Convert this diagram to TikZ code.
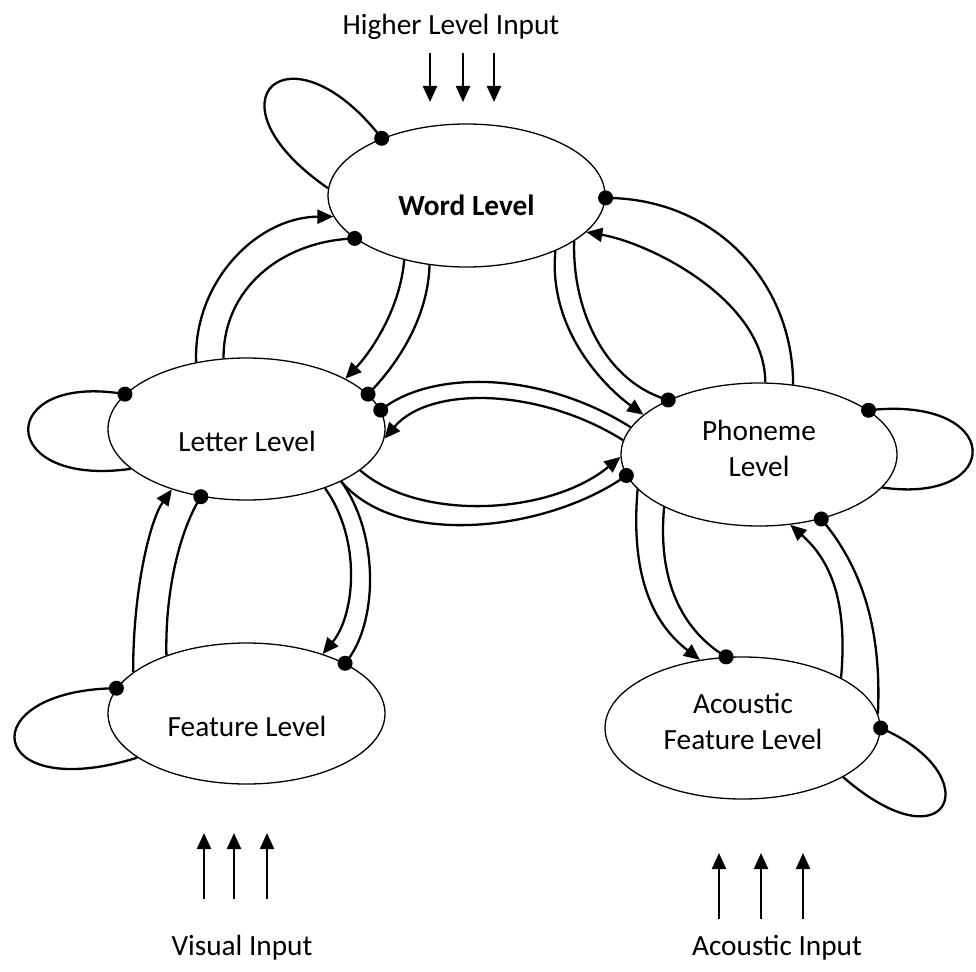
\documentclass[tikz,border=0pt]{standalone}
\usepackage{fontspec}
\setmainfont{Carlito}
\usetikzlibrary{shapes.geometric,arrows.meta}
\tikzset{
  lvl/.style={draw, ellipse, line width=1.3pt, inner sep=0pt},
  conn/.style={line width=2.3pt},
  arr/.style={conn, -{Triangle[length=16pt,width=14pt]}},
  lbl/.style={font=\fontsize{29.3}{35}\selectfont, anchor=base, inner sep=0pt},
}
\newcommand\inhibdot{}
\renewcommand\inhibdot[1]{\fill (#1) circle[radius=7.5pt];}
\begin{document}
\begin{tikzpicture}[x=1pt,y=-1pt]
\useasboundingbox (0,0) rectangle (976,971);

% level ellipses
\node[lvl, minimum width=277pt, minimum height=143pt] (word) at (466.5,195.5) {};
\node[lvl, minimum width=277pt, minimum height=142pt] (letter) at (246.5,429) {};
\node[lvl, minimum width=276pt, minimum height=143pt] (phon) at (759,454.5) {};
\node[lvl, minimum width=277pt, minimum height=141pt] (feat) at (246.5,713.5) {};
\node[lvl, minimum width=275pt, minimum height=142pt] (acou) at (742.5,728) {};

% texts
\node[lbl] (hitxt) at (451,35) {Higher Level Input};
\node[lbl, font=\fontsize{29.3}{35}\selectfont\bfseries] (wordtxt) at (466.5,215) {Word Level};
\node[lbl] (lettertxt) at (247,451) {Letter Level};
\node[lbl] (phontxta) at (759,440) {Phoneme};
\node[lbl] (phontxtb) at (759,476) {Level};
\node[lbl] (feattxt) at (247,736) {Feature Level};
\node[lbl] (acoutxta) at (743,713) {Acoustic};
\node[lbl] (acoutxtb) at (743,749) {Feature Level};
\node[lbl] (vistxt) at (242,955) {Visual Input};
\node[lbl] (acintxt) at (777,955) {Acoustic Input};

% self loops
\draw[conn] (word.177) .. controls (200,100) and (290,20) .. (word.146);
\inhibdot{word.146}
\draw[conn] (letter.164) .. controls (-5,372) and (-5,488) .. (letter.199);
\inhibdot{letter.164}
\draw[conn] (feat.169) .. controls (-30,690) and (-15,805) .. (feat.202);
\inhibdot{feat.169}
\draw[conn] (phon.22.5) .. controls (1005,395) and (1005,505) .. (phon.345);
\inhibdot{phon.22.5}
\draw[conn] (acou.0.8) .. controls (990,775) and (950,870) .. (acou.334);
\inhibdot{acou.0.8}

% letter <-> word (left)
\draw[arr] (letter.127.8) .. controls (193,282) and (257,217) .. (word.189.2);
\draw[conn] (letter.108.6) .. controls (223,289) and (281,241) .. (word.201.8);
\inhibdot{word.201.8}

% word -> letter (middle)
\draw[arr] (word.226.4) .. controls (400,310) and (370,353) .. (letter.27.4);
\draw[conn] (word.242.3) .. controls (428,320) and (395,367) .. (letter.16.6);
\inhibdot{letter.16.6}

% phoneme -> word (right)
\draw[conn] (phon.64.9) .. controls (793,282) and (715,198) .. (word.359);
\inhibdot{word.359}
\draw[arr] (phon.85.3) .. controls (765,300) and (650,243) .. (word.343.8);

% word -> phoneme (middle)
\draw[arr] (word.328) .. controls (548,330) and (605,387) .. (phon.161.8);
\draw[conn] (word.337.5) .. controls (572,310) and (605,382) .. (phon.149.3);
\inhibdot{phon.149.3}

% phoneme <-> letter
\draw[conn] (phon.168.8) .. controls (540,370) and (430,370) .. (letter.8.4);
\inhibdot{letter.8.4}
\draw[arr] (phon.174.1) .. controls (540,388) and (430,385) .. (letter.356.3);
\draw[arr] (letter.340) .. controls (420,522) and (550,515) .. (phon.181);
\draw[conn] (letter.331) .. controls (400,550) and (550,530) .. (phon.189.7);
\inhibdot{phon.189.7}

% letter -> feature
\draw[arr] (letter.323.5) .. controls (362,540) and (355,615) .. (feat.38.5);
\draw[conn] (letter.331.9) .. controls (380,535) and (378,625) .. (feat.27.8);
\inhibdot{feat.27.8}

% feature -> letter
\draw[arr] (feat.160.5) .. controls (133,590) and (150,520) .. (letter.219.9);
\draw[conn] (feat.144.7) .. controls (165,590) and (180,530) .. (letter.236.2);
\inhibdot{letter.236.2}

% phoneme -> acoustic
\draw[arr] (phon.196.9) .. controls (630,580) and (655,625) .. (acou.122.7);
\draw[conn] (phon.209.5) .. controls (657,585) and (685,632) .. (acou.103.2);
\inhibdot{acou.103.2}

% acoustic -> phoneme
\draw[arr] (acou.27.8) .. controls (848,600) and (830,560) .. (phon.294.5);
\draw[conn] (acou.6.7) .. controls (882,625) and (860,565) .. (phon.314);
\inhibdot{phon.314}

% input arrows
\coordinate (hia) at (430,53);  \coordinate (hiae) at (430,102);
\coordinate (hib) at (463,53);  \coordinate (hibe) at (463,102);
\coordinate (hic) at (494,53);  \coordinate (hice) at (494,102);
\draw[arr] (hia) -- (hiae);
\draw[arr] (hib) -- (hibe);
\draw[arr] (hic) -- (hice);

\coordinate (via) at (204,899); \coordinate (viae) at (204,833);
\coordinate (vib) at (234,899); \coordinate (vibe) at (234,833);
\coordinate (vic) at (267,899); \coordinate (vice) at (267,833);
\draw[arr] (via) -- (viae);
\draw[arr] (vib) -- (vibe);
\draw[arr] (vic) -- (vice);

\coordinate (aca) at (719,919); \coordinate (acae) at (719,853);
\coordinate (acb) at (761,919); \coordinate (acbe) at (761,853);
\coordinate (acc) at (803,919); \coordinate (acce) at (803,853);
\draw[arr] (aca) -- (acae);
\draw[arr] (acb) -- (acbe);
\draw[arr] (acc) -- (acce);
\end{tikzpicture}
\end{document}
